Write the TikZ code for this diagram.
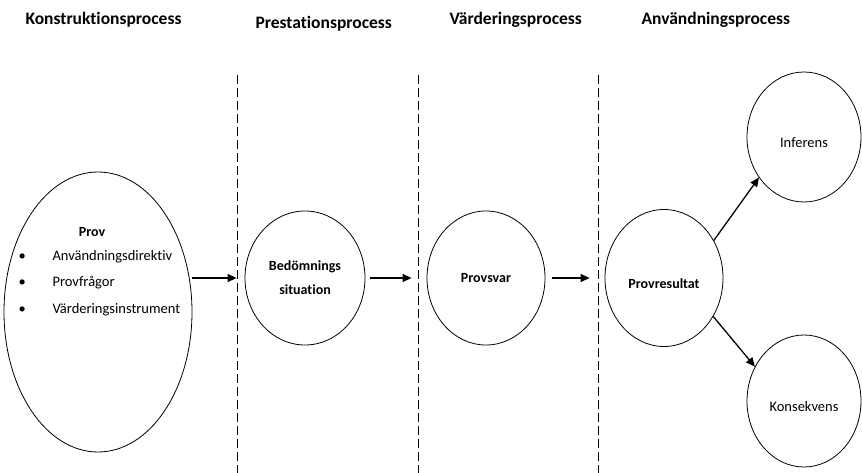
\documentclass[tikz,border=0pt]{standalone}
\usepackage{fontspec}
\setmainfont{Carlito}[Ligatures=NoCommon]
\usetikzlibrary{shapes.geometric,arrows.meta}

\begin{document}
\begin{tikzpicture}[x=1pt,y=-1pt,
    kreis/.style={draw,ellipse,line width=0.8pt,inner sep=0pt,align=center,
      font=\fontsize{14}{24}\selectfont\bfseries},
    lagre/.style={text height=21pt,text depth=0pt},
    pil/.style={-{Triangle[length=9pt,width=8pt]},line width=1.3pt},
    rubrik/.style={anchor=west,font=\fontsize{17.5}{20}\selectfont\bfseries},
    punkt/.style={anchor=west,font=\fontsize{14.5}{17}\selectfont}]
        \useasboundingbox (0,0) rectangle (862,473);

        % the headings
        \foreach \i/\x/\y/\namn in {1/22/20/Konstruktionsprocess,2/252/24/Prestationsprocess,
          3/446/20/Värderingsprocess,4/638/20/Användningsprocess}
        {
          \node[rubrik] (rubrik\i) at (\x,\y) {\namn};
        }
        % the dashed borders
        \foreach \x in {237,418,598}
          \draw[dash pattern=on 9pt off 4pt,line width=0.8pt] (\x,75) -- (\x,473);

        % the circles
        \node[kreis,minimum width=188,minimum height=280] (prov) at (98,312) {};
        \node[kreis,minimum width=120,minimum height=134] (bedomning) at (305,278) {Bedömnings\\situation};
        \node[kreis,minimum width=118,minimum height=134] (provsvar) at (486,278) {Provsvar};
        \node[kreis,lagre,minimum width=118,minimum height=137] (provresultat) at (664,278) {Provresultat};
        \node[kreis,lagre,minimum width=114,minimum height=130,font=\fontsize{14.5}{17}\selectfont] (inferens) at (804,137) {Inferens};
        \node[kreis,lagre,minimum width=114,minimum height=132,font=\fontsize{14.5}{17}\selectfont] (konsekvens) at (804,401) {Konsekvens};

        % the text in the big circle
        \node[font=\fontsize{14}{17}\selectfont\bfseries] (provtitel) at (92,232) {Prov};
        \foreach \i/\y/\punkttext in {1/257/Användningsdirektiv,2/283/Provfrågor,3/310/Värderingsinstrument}
        {
          \node[punkt] (prick\i) at (15,\y) {\textbullet};
          \node[punkt] (punkt\i) at (49,\y) {\punkttext};
        }

        % the arrows
        \draw[pil,shorten >=8pt] (prov.east|-bedomning.west) -- (bedomning.west);
        \draw[pil,shorten <=5pt,shorten >=15pt] (bedomning.east) -- (provsvar.west);
        \draw[pil,shorten <=7pt,shorten >=15pt] (provsvar.east) -- (provresultat.west);
        \draw[pil] (provresultat.37) -- (inferens.222);
        \draw[pil] (provresultat.-38) -- (konsekvens.145);
\end{tikzpicture}
\end{document}
